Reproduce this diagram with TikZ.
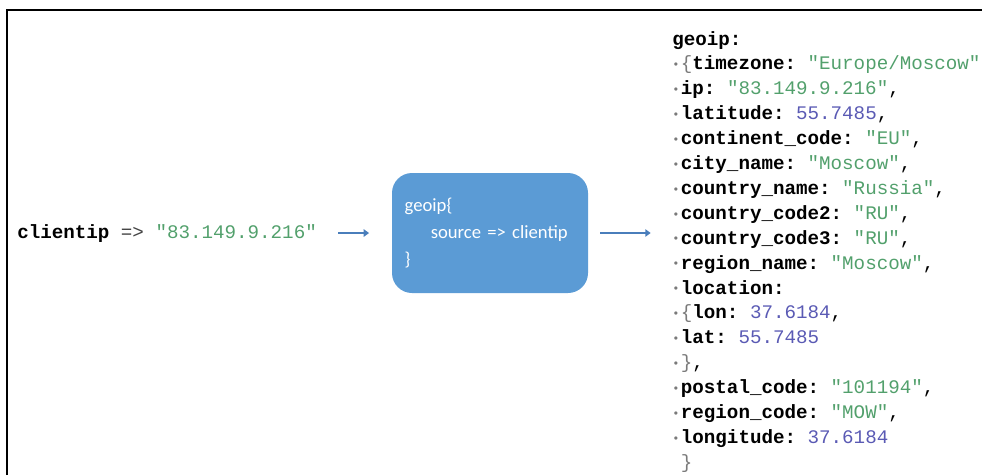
\documentclass[tikz,border=0pt]{standalone}
\usepackage{fontspec}
\setmonofont{Liberation Mono}
\newfontfamily\boxfont{Carlito}
\usetikzlibrary{arrows.meta,positioning}
\definecolor{strgreen}{HTML}{52A06C}
\definecolor{numblue}{HTML}{5A5AB4}
\definecolor{dotgray}{HTML}{7A7A7A}
\definecolor{opgray}{HTML}{444444}
\definecolor{plugblue}{HTML}{5B9BD5}
\definecolor{linkblue}{HTML}{4A7EBB}
\newcommand{\ky}[1]{\textbf{#1}}
\newcommand{\st}[1]{\textcolor{strgreen}{#1}}
\newcommand{\nm}[1]{\textcolor{numblue}{#1}}
\newcommand{\br}[1]{\textcolor{dotgray}{#1}}
\newcommand{\bl}{\makebox[0.45em][l]{\textcolor{dotgray}{\fontsize{9}{9}\selectfont\raisebox{0.2ex}{•}}}}

\begin{document}
\begin{tikzpicture}[x=0.75pt,y=-0.75pt,
  row/.style={anchor=base west,inner sep=0pt,font={\ttfamily\fontsize{14.4}{17}\selectfont}},
  plugin/.style={fill=plugblue,rounded corners=15pt,minimum width=147pt,minimum height=90pt,
    text width=128pt,inner xsep=9.5pt,align=left,text=white,font={\boxfont\fontsize{14}{20}\selectfont}},
  link/.style={linkblue,line width=2pt,-{Triangle[length=4pt,width=5.5pt]}}]
  \useasboundingbox (0,0) rectangle (982,475);
  \clip (0,0) rectangle (982,475);
  % frame
  \draw[line width=2pt] (7,475) -- (7,10) -- (982,10);

  % input field
  \node[row] (clip) at (17,238) {\ky{clientip} \textcolor{opgray}{=>} \st{"83.149.9.216"}};

  % filter
  \node[plugin] (geo) at (490,233) {geoip\{\\\hspace*{1.4em}source => clientip\\\}};

  % output document
  \foreach \row [count=\i from 0] in {
    {\ky{geoip:}},
    {\bl\br{\{}\ky{timezone:} \st{"Europe/Moscow"},},
    {\bl\ky{ip:} \st{"83.149.9.216"},},
    {\bl\ky{latitude:} \nm{55.7485},},
    {\bl\ky{continent\_code:} \st{"EU"},},
    {\bl\ky{city\_name:} \st{"Moscow"},},
    {\bl\ky{country\_name:} \st{"Russia"},},
    {\bl\ky{country\_code2:} \st{"RU"},},
    {\bl\ky{country\_code3:} \st{"RU"},},
    {\bl\ky{region\_name:} \st{"Moscow"},},
    {\bl\ky{location:}},
    {\bl\br{\{}\ky{lon:} \nm{37.6184},},
    {\bl\ky{lat:} \nm{55.7485}},
    {\bl\br{\}},},
    {\bl\ky{postal\_code:} \st{"101194"},},
    {\bl\ky{region\_code:} \st{"MOW"},},
    {\bl\ky{longitude:} \nm{37.6184}},
    {\phantom{\bl}\br{\}}}}
    \node[row] (r\i) at (672,{45+24.9*\i}) {\row};

  % arrows
  \draw[link,shorten <=16pt,shorten >=17pt] (clip.east) -- (clip.east -| geo.west);
  \draw[link,shorten <=9pt,shorten >=16pt] (geo.east) -- (geo.east -| r0.west);
\end{tikzpicture}
\end{document}
